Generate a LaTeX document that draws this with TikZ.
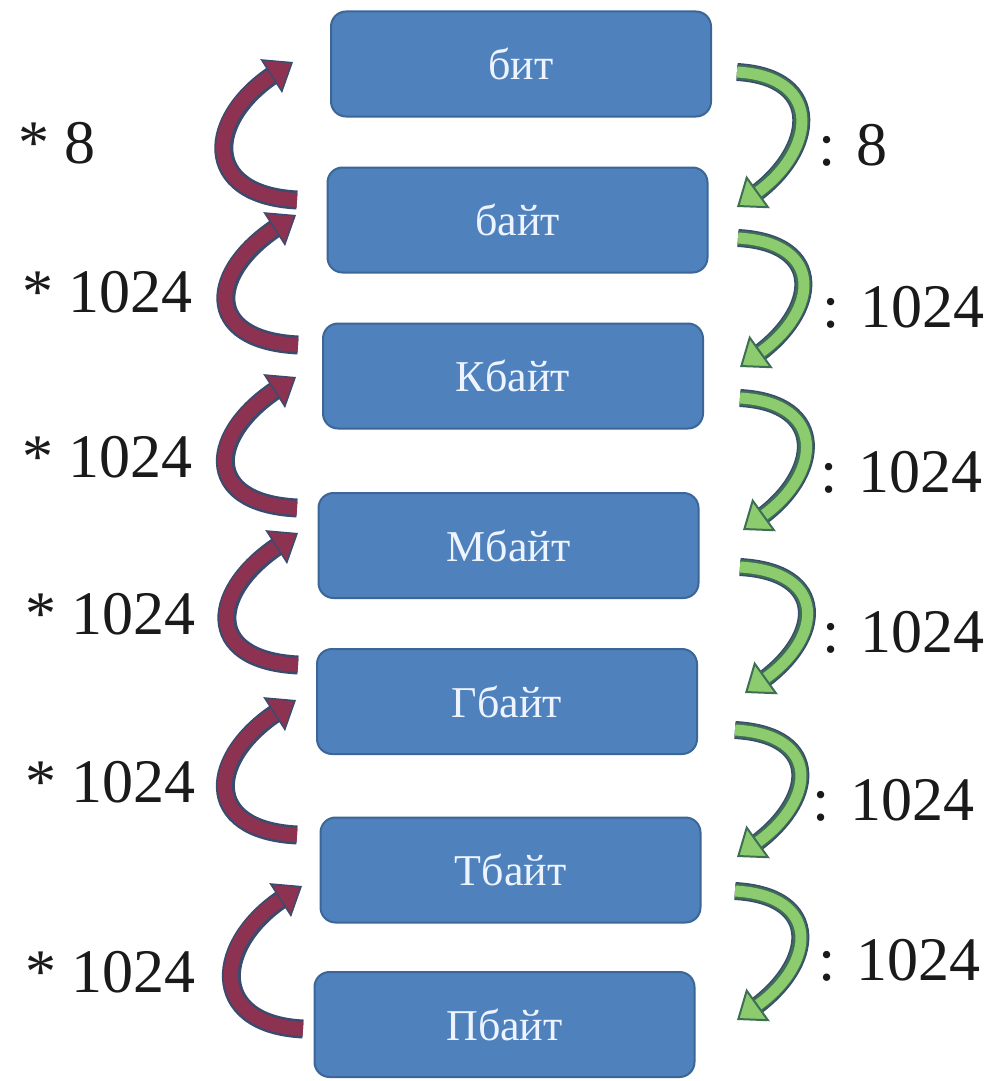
\documentclass[tikz,border=0pt]{standalone}
\usepackage{fontspec}
\setmainfont{Liberation Serif}
\usetikzlibrary{arrows.meta,calc}
\definecolor{boxfill}{HTML}{4F81BD}
\definecolor{boxedge}{HTML}{3B6698}
\definecolor{boxtext}{HTML}{EEF4FF}
\definecolor{arrmaroon}{HTML}{8E3252}
\definecolor{navyedge}{HTML}{3A4B6E}
\definecolor{lgreen}{HTML}{8DCB6F}
\definecolor{dgreen}{HTML}{3E6F55}
\definecolor{lbltext}{HTML}{1A1A1A}
\tikzset{
  box/.style={draw=boxedge, line width=2pt, fill=boxfill, rounded corners=15pt,
    minimum width=380pt, minimum height=105pt, inner sep=0pt, text=boxtext,
    font=\fontsize{44}{50}\selectfont},
  lbl/.style={anchor=base west, inner sep=0pt, text=lbltext,
    font=\fontsize{62}{70}\selectfont},
  lout/.style={line width=19pt, draw=navyedge, shorten >=20pt},
  lin/.style={line width=14pt, draw=arrmaroon,
    -{Triangle[length=26pt, width=40pt, line width=1.5pt, color=navyedge, fill=arrmaroon]}},
  gout/.style={line width=18pt, draw=navyedge, shorten >=20pt},
  gmid/.style={line width=15pt, draw=dgreen, shorten >=20pt},
  gin/.style={line width=11pt, draw=lgreen,
    -{Triangle[length=26pt, width=40pt, line width=2pt, color=dgreen, fill=lgreen]}},
}
\newcommand\uparr[2]{%
  \draw[lout] (#1) .. controls ($(#1)+(-97,5)$) and ($(#2)+(-87,-56)$) .. (#2);
  \draw[lin] (#1) .. controls ($(#1)+(-97,5)$) and ($(#2)+(-87,-56)$) .. (#2);}
\newcommand\downarr[2]{%
  \draw[gout] (#1) .. controls ($(#1)+(88,-5)$) and ($(#2)+(78,56)$) .. (#2);
  \draw[gmid] (#1) .. controls ($(#1)+(88,-5)$) and ($(#2)+(78,56)$) .. (#2);
  \draw[gin] (#1) .. controls ($(#1)+(88,-5)$) and ($(#2)+(78,56)$) .. (#2);}
\begin{document}
\begin{tikzpicture}[x=1pt, y=1pt]
\fill[white] (0,0) rectangle (993,-1081);
\useasboundingbox (0,0) rectangle (993,-1081);

% boxes
\node[box] (b1) at (521,-64) {бит};
\node[box] (b2) at (517.5,-220) {байт};
\node[box] (b3) at (513,-376) {Кбайт};
\node[box] (b4) at (508.5,-545.5) {Мбайт};
\node[box] (b5) at (507,-701.5) {Гбайт};
\node[box] (b6) at (510.5,-870) {Тбайт};
\node[box] (b7) at (504.5,-1024.5) {Пбайт};

% arrow end points
\coordinate (L1t) at (297,-200); \coordinate (L1h) at (293,-62);
\coordinate (L2t) at (298,-345); \coordinate (L2h) at (296,-215);
\coordinate (L3t) at (297,-508); \coordinate (L3h) at (296,-377);
\coordinate (L4t) at (298,-665); \coordinate (L4h) at (298,-533);
\coordinate (L5t) at (297,-835); \coordinate (L5h) at (296,-700);
\coordinate (L6t) at (303,-1029); \coordinate (L6h) at (302,-886);

\coordinate (R1t) at (737,-72);  \coordinate (R1h) at (737,-207);
\coordinate (R2t) at (738,-238); \coordinate (R2h) at (740,-367);
\coordinate (R3t) at (740,-398); \coordinate (R3h) at (743,-530);
\coordinate (R4t) at (740,-567); \coordinate (R4h) at (745,-693);
\coordinate (R5t) at (735,-730); \coordinate (R5h) at (737,-857);
\coordinate (R6t) at (735,-891); \coordinate (R6h) at (737,-1020);

\uparr{L1t}{L1h}
\uparr{L2t}{L2h}
\uparr{L3t}{L3h}
\uparr{L4t}{L4h}
\uparr{L5t}{L5h}
\uparr{L6t}{L6h}

\downarr{R1t}{R1h}
\downarr{R2t}{R2h}
\downarr{R3t}{R3h}
\downarr{R4t}{R4h}
\downarr{R5t}{R5h}
\downarr{R6t}{R6h}

% labels
\node[lbl] (m1) at (18,-163) {* 8};
\node[lbl] (m2) at (22,-312) {* 1024};
\node[lbl] (m3) at (22,-477) {* 1024};
\node[lbl] (m4) at (25,-634) {* 1024};
\node[lbl] (m5) at (25,-802) {* 1024};
\node[lbl] (m6) at (25,-992) {* 1024};

\node[lbl] (d1) at (818,-165) {: 8};
\node[lbl] (d2) at (822,-327) {: 1024};
\node[lbl] (d3) at (820,-492) {: 1024};
\node[lbl] (d4) at (822,-652) {: 1024};
\node[lbl] (d5) at (812,-820) {: 1024};
\node[lbl] (d6) at (818,-980) {: 1024};
\end{tikzpicture}
\end{document}
